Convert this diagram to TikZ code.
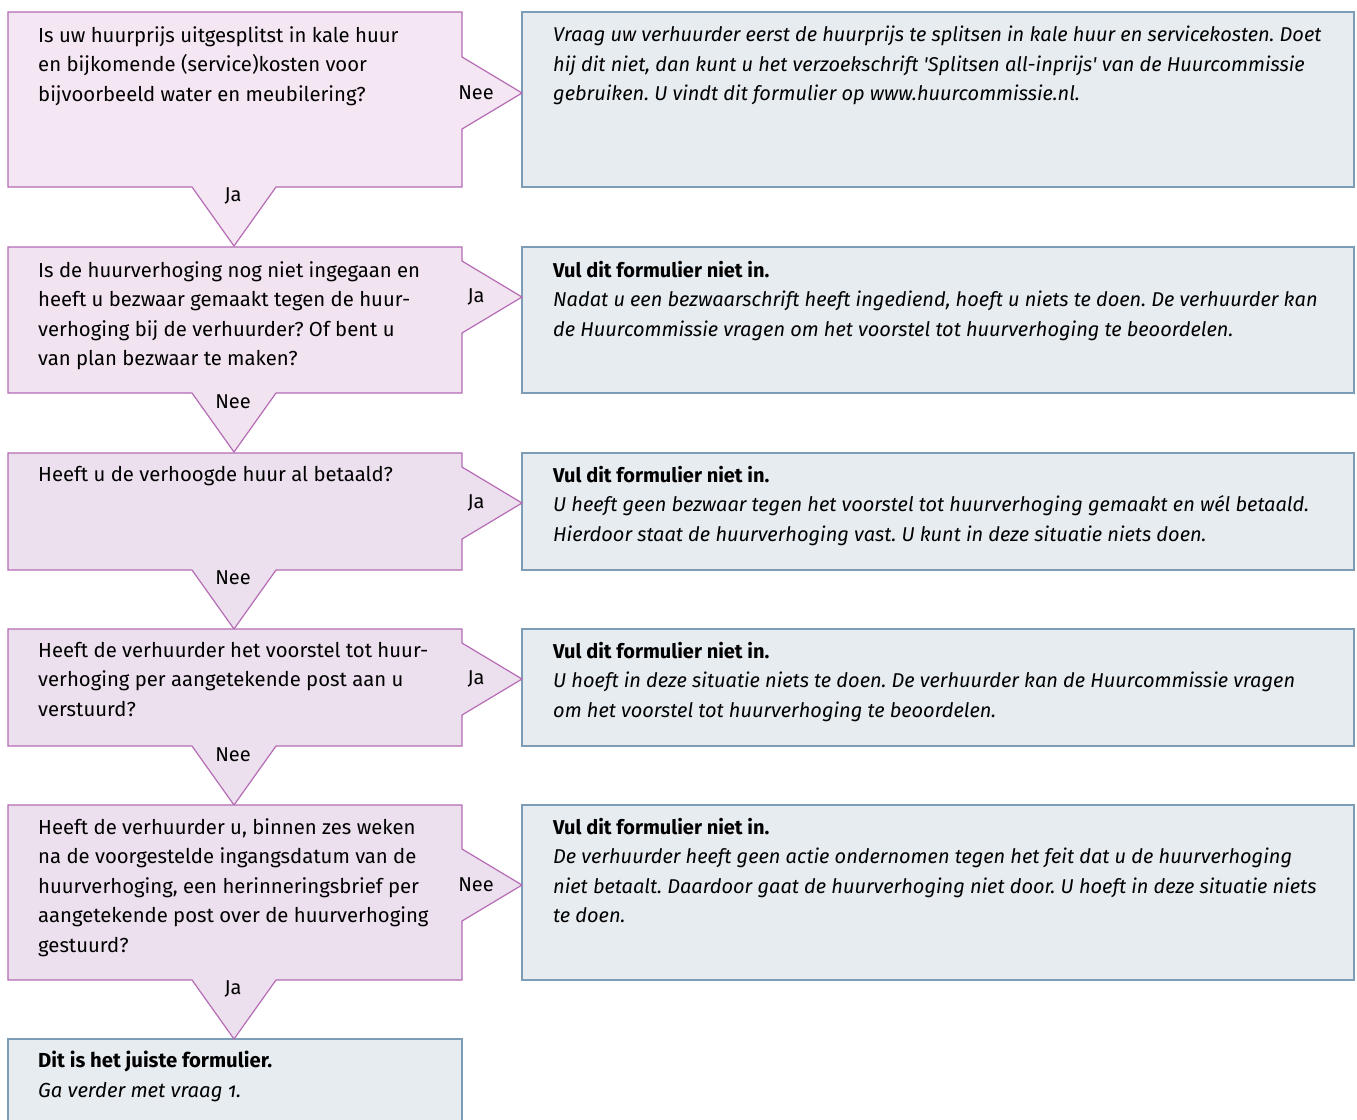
\documentclass[tikz,border=0pt]{standalone}
\usepackage{fontspec}
\setmainfont{Fira Sans}
\frenchspacing
\definecolor{pinkA}{HTML}{F4E6F2}
\definecolor{pinkB}{HTML}{F1E3F0}
\definecolor{pinkC}{HTML}{ECDFEE}
\definecolor{pinkLine}{HTML}{B56CB5}
\definecolor{blueFill}{HTML}{E7ECF1}
\definecolor{blueLine}{HTML}{7D9DB6}
\newcommand{\qshape}[4]{% top, bottom, arrow y, fill
  \path[draw=pinkLine,fill=#4,line width=1.2pt,line join=miter]
    (8,#1) -- (462,#1) -- (462,#3-36) -- (522,#3) -- (462,#3+36) -- (462,#2)
    -- (276,#2) -- (234,#2+59) -- (192,#2) -- (8,#2) -- cycle;}
\newcommand{\ashape}[2]{% top, bottom
  \path[draw=blueLine,fill=blueFill,line width=1.2pt] (522,#1) rectangle (1354,#2);}
\begin{document}
\begin{tikzpicture}[x=1pt,y=-1pt,
  txt/.style={font=\fontsize{20.3}{29.5}\selectfont\frenchspacing,align=left,anchor=north west,inner sep=0pt},
  atxt/.style={font=\fontsize{20}{29.5}\selectfont\frenchspacing,align=left,anchor=north west,inner sep=0pt},
  lbl/.style={font=\fontsize{20}{24}\selectfont,inner sep=0pt}]
\clip (0,0) rectangle (1357,1119);
\fill[white] (0,0) rectangle (1357,1119);
% answer boxes
\ashape{12}{187}
\ashape{247}{393}
\ashape{453}{570}
\ashape{629}{746}
\ashape{805}{980}
\path[draw=blueLine,fill=blueFill,line width=1.2pt] (8,1039) rectangle (462,1140);
% question shapes
\qshape{12}{187}{93}{pinkA}
\qshape{247}{393}{297}{pinkB}
\qshape{453}{570}{503}{pinkC}
\qshape{629}{746}{679}{pinkC}
\qshape{805}{980}{885}{pinkC}
% questions
\node[txt] (q1) at (38,26) {Is uw huurprijs uitgesplitst in kale huur\\en bijkomende (service)kosten voor\\bijvoorbeeld water en meubilering?};
\node[txt] (q2) at (38,261) {Is de huurverhoging nog niet ingegaan en\\heeft u bezwaar gemaakt tegen de huur-\\verhoging bij de verhuurder? Of bent u\\van plan bezwaar te maken?};
\node[txt] (q3) at (38,466) {Heeft u de verhoogde huur al betaald?};
\node[txt] (q4) at (38,642) {Heeft de verhuurder het voorstel tot huur-\\verhoging per aangetekende post aan u\\verstuurd?};
\node[txt] (q5) at (38,818) {Heeft de verhuurder u, binnen zes weken\\na de voorgestelde ingangsdatum van de\\huurverhoging, een herinneringsbrief per\\aangetekende post over de huurverhoging\\gestuurd?};
% answers
\node[atxt] (a1) at (553,26) {\itshape Vraag uw verhuurder eerst de huurprijs te splitsen in kale huur en servicekosten. Doet\\\itshape hij dit niet, dan kunt u het verzoekschrift \textquotesingle Splitsen all-inprijs\textquotesingle\ van de Huurcommissie\\\itshape gebruiken. U vindt dit formulier op www.huurcommissie.nl.};
\node[atxt] (a2) at (553,261) {\bfseries Vul dit formulier niet in.\\\itshape Nadat u een bezwaarschrift heeft ingediend, hoeft u niets te doen. De verhuurder kan\\\itshape de Huurcommissie vragen om het voorstel tot huurverhoging te beoordelen.};
\node[atxt] (a3) at (553,466) {\bfseries Vul dit formulier niet in.\\\itshape U heeft geen bezwaar tegen het voorstel tot huurverhoging gemaakt en wél betaald.\\\itshape Hierdoor staat de huurverhoging vast. U kunt in deze situatie niets doen.};
\node[atxt] (a4) at (553,642) {\bfseries Vul dit formulier niet in.\\\itshape U hoeft in deze situatie niets te doen. De verhuurder kan de Huurcommissie vragen\\\itshape om het voorstel tot huurverhoging te beoordelen.};
\node[atxt] (a5) at (553,818) {\bfseries Vul dit formulier niet in.\\\itshape De verhuurder heeft geen actie ondernomen tegen het feit dat u de huurverhoging\\\itshape niet betaalt. Daardoor gaat de huurverhoging niet door. U hoeft in deze situatie niets\\\itshape te doen.};
\node[txt] (a6) at (38,1051) {\bfseries Dit is het juiste formulier.\\\itshape Ga verder met vraag {\addfontfeatures{Numbers=OldStyle}1}.};
% labels
\node[lbl] (r1) at (476,93) {Nee};
\node[lbl] (r2) at (476,297) {Ja};
\node[lbl] (r3) at (476,503) {Ja};
\node[lbl] (r4) at (476,679) {Ja};
\node[lbl] (r5) at (476,885) {Nee};
\node[lbl] (d1) at (233,196) {Ja};
\node[lbl] (d2) at (233,402) {Nee};
\node[lbl] (d3) at (233,578) {Nee};
\node[lbl] (d4) at (233,755) {Nee};
\node[lbl] (d5) at (233,989) {Ja};
\end{tikzpicture}
\end{document}
